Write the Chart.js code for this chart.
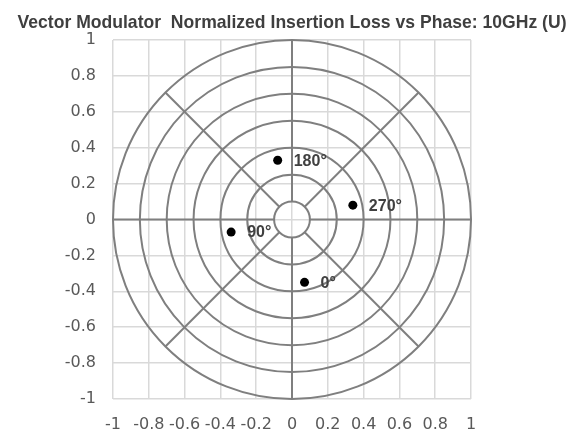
<!DOCTYPE html>
<html>
<head>
<meta charset="utf-8">
<title>Vector Modulator Normalized Insertion Loss vs Phase</title>
<script src="https://cdn.jsdelivr.net/npm/chart.js@4.4.1/dist/chart.umd.min.js"></script>
<style>
    html, body { margin: 0; padding: 0; background: #fff; }
    #wrap { width: 575px; height: 433px; }
</style>
</head>
<body>
<div id="wrap"><canvas id="phase-chart" width="575" height="433"></canvas></div>
<script>
// Data
const chartTitle = 'Vector Modulator  Normalized Insertion Loss vs Phase: 10GHz (U)';
const phaseLabels = ['0°', '90°', '180°', '270°'];
const realValues = [0.07, -0.34, -0.08, 0.34];
const imagValues = [-0.35, -0.07, 0.33, 0.08];

// Polar overlay: ring radii and spoke angles (degrees)
const ringRadii = [0.1, 0.25, 0.4, 0.55, 0.7, 0.85, 1.0];
const spokeAngles = [0, 45, 90, 135, 180, 225, 270, 315];
const spokeInner = 0.1;
const spokeOuter = 1.0;

// Axis ticks
const axisMin = -1;
const axisMax = 1;
const axisStep = 0.2;


// Plugins
const polarGrid = {
    id: 'polarGrid',
    beforeDatasetsDraw(chart) {
        const { ctx, scales: { x, y } } = chart;
        const cx = x.getPixelForValue(0);
        const cy = y.getPixelForValue(0);
        ctx.save();
        ctx.strokeStyle = '#7f7f7f';
        ctx.lineWidth = 2;
        ringRadii.forEach(r => {
            const rx = x.getPixelForValue(r) - cx;
            const ry = cy - y.getPixelForValue(r);
            ctx.beginPath();
            ctx.ellipse(cx, cy, rx, ry, 0, 0, Math.PI * 2);
            ctx.stroke();
        });
        spokeAngles.forEach(a => {
            const t = a * Math.PI / 180;
            const c = Math.cos(t), s = Math.sin(t);
            ctx.beginPath();
            ctx.moveTo(x.getPixelForValue(spokeInner * c), y.getPixelForValue(spokeInner * s));
            ctx.lineTo(x.getPixelForValue(spokeOuter * c), y.getPixelForValue(spokeOuter * s));
            ctx.stroke();
        });
        ctx.restore();
    }
};

const pointLabels = {
    id: 'pointLabels',
    afterDatasetsDraw(chart) {
        const { ctx } = chart;
        const meta = chart.getDatasetMeta(0);
        ctx.save();
        ctx.font = 'bold 16px "Liberation Sans", Arial, sans-serif';
        ctx.fillStyle = '#404040';
        ctx.textAlign = 'left';
        ctx.textBaseline = 'middle';
        meta.data.forEach((pt, i) => {
            ctx.fillText(phaseLabels[i], pt.x + 16, pt.y + 1);
        });
        ctx.restore();
    }
};

const titleText = {
    id: 'titleText',
    afterDraw(chart) {
        const { ctx } = chart;
        ctx.save();
        ctx.font = 'bold 19px "Liberation Sans", Arial, sans-serif';
        ctx.fillStyle = '#3f3f3f';
        ctx.textAlign = 'center';
        ctx.textBaseline = 'middle';
        ctx.fillText(chartTitle, 292, 23, 549);
        ctx.restore();
    }
};


// Chart
const tickFont = { family: '"DejaVu Sans", sans-serif', size: 16 };
const points = realValues.map((v, i) => ({ x: v, y: imagValues[i] }));

new Chart(document.getElementById('phase-chart'), {
    type: 'scatter',
    data: {
        datasets: [{
            label: 'Phase',
            data: points,
            pointRadius: 4.5,
            pointHoverRadius: 4.5,
            backgroundColor: '#000',
            borderColor: '#000',
            borderWidth: 0
        }]
    },
    options: {
        responsive: false,
        animation: false,
        layout: { padding: { top: 40, right: 104, bottom: 0, left: 0 } },
        plugins: {
            legend: { display: false },
            tooltip: { enabled: false },
            title: { display: false }
        },
        scales: {
            x: {
                type: 'linear',
                min: axisMin,
                max: axisMax,
                afterFit: s => { s.height = 34; },
                border: { display: false },
                grid: { color: '#d9d9d9', lineWidth: 1.5, drawTicks: false },
                ticks: {
                    stepSize: axisStep,
                    padding: 16,
                    color: '#595959',
                    font: tickFont,
                    maxRotation: 0,
                    autoSkip: false,
                    callback: v => Math.round(v * 10) / 10
                }
            },
            y: {
                type: 'linear',
                min: axisMin,
                max: axisMax,
                afterFit: s => { s.width = 113; },
                border: { display: false },
                grid: { color: '#d9d9d9', lineWidth: 1.5, drawTicks: false },
                ticks: {
                    stepSize: axisStep,
                    padding: 17,
                    color: '#595959',
                    font: tickFont,
                    autoSkip: false,
                    callback: v => Math.round(v * 10) / 10
                }
            }
        }
    },
    plugins: [polarGrid, pointLabels, titleText]
});
</script>
</body>
</html>
